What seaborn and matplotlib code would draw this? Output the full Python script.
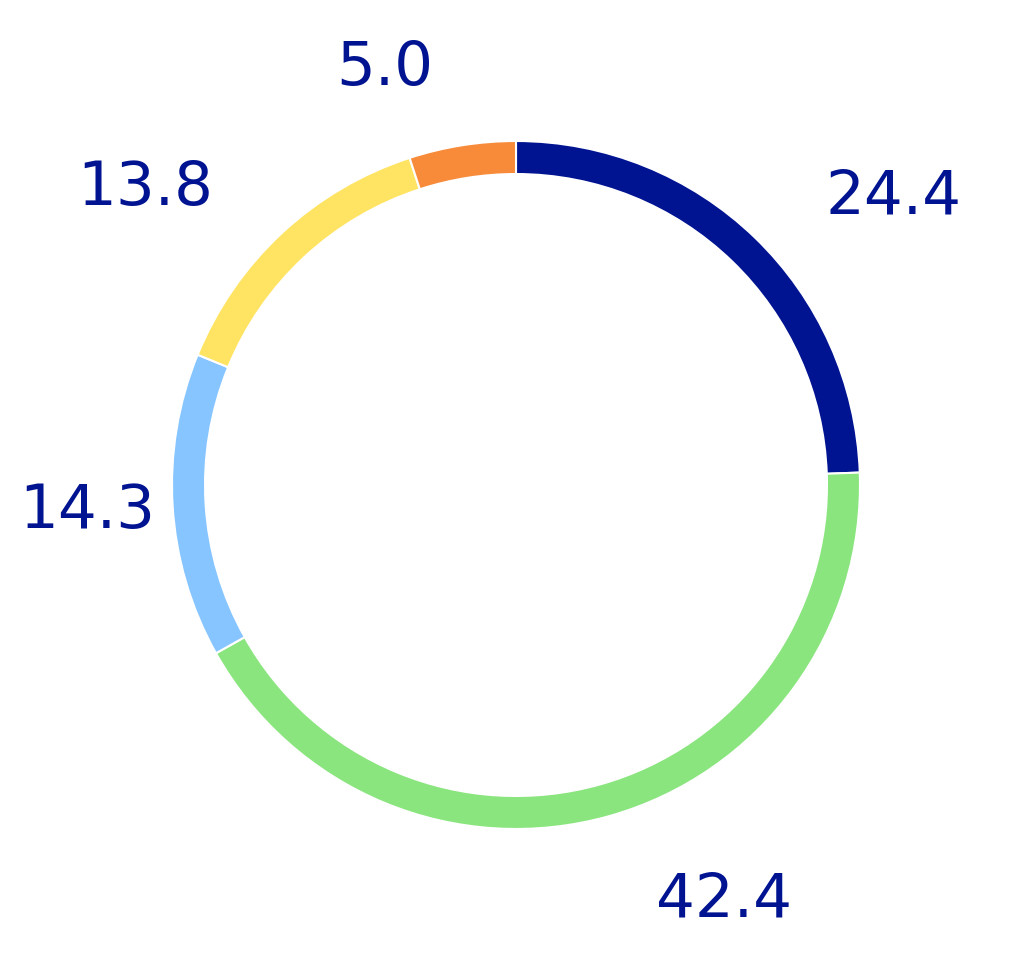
import numpy as np
import matplotlib
matplotlib.use("Agg")
import matplotlib.pyplot as plt
import seaborn as sns

# shares in percent, clockwise from 12 o'clock
labels = ["24.4", "42.4", "14.3", "13.8", "5.0"]
values = [24.4, 42.4, 14.3, 13.8, 5.0]
colors = ["#001391", "#8be57f", "#86c5ff", "#ffe463", "#f78b3a"]

# label placement tweaks (radius, angle shift in degrees from wedge middle)
label_dist = [1.38, 1.35, 1.25, 1.38, 1.27]
label_shift = [-8.7, 10.9, 0.0, 8.4, 8.5]

sns.set_theme(style="white")
plt.rcParams['font.family'] = ['DejaVu Sans']

fig = plt.figure(figsize=(10.32, 9.72), dpi=100)
ax = fig.add_axes([0, 0, 1, 1])

wedges, _ = ax.pie(values, colors=colors, startangle=90, counterclock=False,
                   radius=1.0,
                   wedgeprops=dict(width=0.096, edgecolor="white", linewidth=1.5))

for w, lab, d, s in zip(wedges, labels, label_dist, label_shift):
    mid = np.deg2rad((w.theta1 + w.theta2) / 2 + s)
    ax.text(d * np.cos(mid), d * np.sin(mid), lab, ha="center", va="center",
            fontsize=44, color="#001391")

ax.set_aspect("auto")
ax.set_xlim(-1.5, 1.5)
ax.set_ylim(-487 / 344, 485 / 344)
ax.axis("off")

fig.savefig("out.png", dpi=100, facecolor="white")
